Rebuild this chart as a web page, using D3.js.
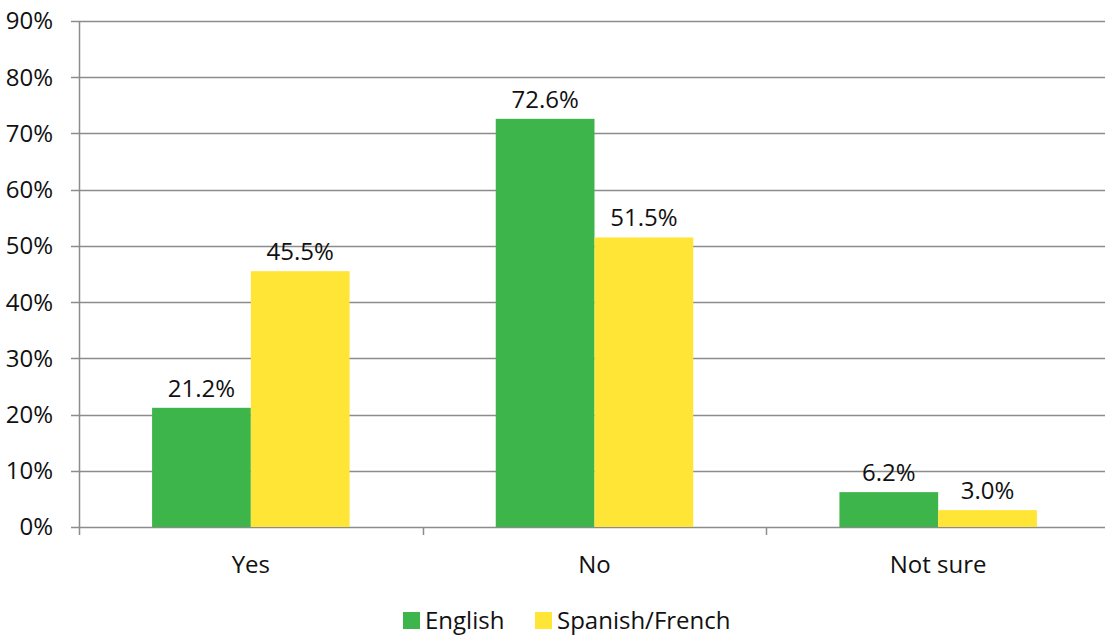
<!DOCTYPE html>
<html>
<head>
<meta charset="utf-8">
<script src="https://cdn.jsdelivr.net/npm/d3@7"></script>
<style>
  body { margin: 0; background: #fff; }
  svg text { font-family: "Open Sans", "Noto Sans", sans-serif; fill: #111; }
</style>
</head>
<body>
<div id="chart"></div>
<script>
var categories = ["Yes", "No", "Not sure"];
var seriesNames = ["English", "Spanish/French"];
var english = [21.2, 72.6, 6.2];
var spanishFrench = [45.5, 51.5, 3.0];
var yTicks = [0, 10, 20, 30, 40, 50, 60, 70, 80, 90];
var colors = ["#3db54a", "#ffe535"];

var width = 1105, height = 637;
var fontSize = "24px";

var svg = d3.select("#chart").append("svg")
  .attr("width", width)
  .attr("height", height);

var x0 = d3.scaleBand()
  .domain(categories)
  .range([79, 1110])
  .padding(0);

var x1 = d3.scaleBand()
  .domain(seriesNames)
  .range([0, x0.bandwidth()])
  .paddingInner(0)
  .paddingOuter(0.74);

var y = d3.scaleLinear()
  .domain([0, 90])
  .range([527, 21]);

var grey = "#8c8c8c";

// gridlines
svg.append("g")
  .selectAll("line")
  .data(yTicks)
  .enter()
  .append("line")
  .attr("x1", 71)
  .attr("x2", 1110)
  .attr("y1", function(d) { return Math.round(y(d)) + 0.5; })
  .attr("y2", function(d) { return Math.round(y(d)) + 0.5; })
  .attr("stroke", grey)
  .attr("stroke-width", 1.5);

// y labels
svg.append("g")
  .selectAll("text")
  .data(yTicks)
  .enter()
  .append("text")
  .attr("x", 53)
  .attr("y", function(d) { return y(d); })
  .attr("dy", "0.35em")
  .attr("text-anchor", "end")
  .attr("font-size", fontSize)
  .text(function(d) { return d + "%"; });

var data = categories.map(function(c, i) {
  return { cat: c, values: [english[i], spanishFrench[i]] };
});

var groups = svg.append("g")
  .selectAll("g")
  .data(data)
  .enter()
  .append("g")
  .attr("transform", function(d) { return "translate(" + x0(d.cat) + ",0)"; });

groups.selectAll("rect")
  .data(function(d) { return d.values.map(function(v, j) { return { s: seriesNames[j], v: v, j: j }; }); })
  .enter()
  .append("rect")
  .attr("x", function(d) { return x1(d.s); })
  .attr("y", function(d) { return y(d.v); })
  .attr("width", x1.bandwidth())
  .attr("height", function(d) { return y(0) - y(d.v); })
  .attr("fill", function(d) { return colors[d.j]; });

groups.selectAll("text")
  .data(function(d) { return d.values.map(function(v, j) { return { s: seriesNames[j], v: v }; }); })
  .enter()
  .append("text")
  .attr("x", function(d) { return x1(d.s) + x1.bandwidth() / 2; })
  .attr("y", function(d) { return y(d.v) - 11; })
  .attr("text-anchor", "middle")
  .attr("font-size", fontSize)
  .text(function(d) { return d.v.toFixed(1) + "%"; });

// axes lines
svg.append("line")
  .attr("x1", 79.5).attr("x2", 79.5)
  .attr("y1", 21).attr("y2", 535)
  .attr("stroke", grey).attr("stroke-width", 1.5);

svg.append("g")
  .selectAll("line")
  .data(categories.slice(1))
  .enter()
  .append("line")
  .attr("x1", function(d) { return Math.round(x0(d)) + 0.5; })
  .attr("x2", function(d) { return Math.round(x0(d)) + 0.5; })
  .attr("y1", 527)
  .attr("y2", 535)
  .attr("stroke", grey).attr("stroke-width", 1.5);

svg.append("line")
  .attr("x1", 1109.5).attr("x2", 1109.5)
  .attr("y1", 527).attr("y2", 535)
  .attr("stroke", grey).attr("stroke-width", 1.5);

// category labels
svg.append("g")
  .selectAll("text")
  .data(categories)
  .enter()
  .append("text")
  .attr("x", function(d) { return x0(d) + x0.bandwidth() / 2; })
  .attr("y", 573)
  .attr("text-anchor", "middle")
  .attr("font-size", fontSize)
  .text(function(d) { return d; });

// legend
var legendX = [403, 535];
var legend = svg.append("g")
  .selectAll("g")
  .data(seriesNames)
  .enter()
  .append("g")
  .attr("transform", function(d, i) { return "translate(" + legendX[i] + ",612)"; });

legend.append("rect")
  .attr("width", 17)
  .attr("height", 17)
  .attr("fill", function(d, i) { return colors[i]; });

legend.append("text")
  .attr("x", 22)
  .attr("y", 17)
  .attr("font-size", fontSize)
  .text(function(d) { return d; });
</script>
</body>
</html>
